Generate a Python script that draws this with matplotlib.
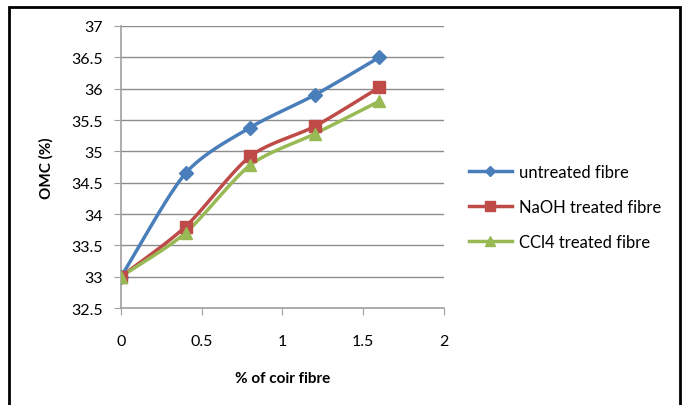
import numpy as np
import matplotlib.pyplot as plt
from matplotlib.patches import Rectangle

fibre = [0, 0.4, 0.8, 1.2, 1.6]
untreated = [33.0, 34.65, 35.38, 35.9, 36.5]
naoh = [33.0, 33.8, 34.92, 35.4, 36.02]
ccl4 = [33.0, 33.7, 34.78, 35.28, 35.8]
labels = ['untreated fibre', 'NaOH treated fibre', 'CCl4 treated fibre']
yticks = [32.5, 33, 33.5, 34, 34.5, 35, 35.5, 36, 36.5, 37]
xticks = [0, 0.5, 1, 1.5, 2]


def smooth(x, y, n=30):
    # catmull-rom style curve through the points, like Excel "smoothed line"
    x = np.asarray(x, float)
    y = np.asarray(y, float)
    px = np.concatenate([[2 * x[0] - x[1]], x, [2 * x[-1] - x[-2]]])
    py = np.concatenate([[2 * y[0] - y[1]], y, [2 * y[-1] - y[-2]]])
    t = np.linspace(0, 1, n)
    xs, ys = [], []
    for i in range(1, len(px) - 2):
        for p, out in ((px, xs), (py, ys)):
            p0, p1, p2, p3 = p[i - 1], p[i], p[i + 1], p[i + 2]
            m1 = (p2 - p0) / 2 * 0.8
            m2 = (p3 - p1) / 2 * 0.8
            h00 = 2 * t**3 - 3 * t**2 + 1
            h10 = t**3 - 2 * t**2 + t
            h01 = -2 * t**3 + 3 * t**2
            h11 = t**3 - t**2
            out.extend(h00 * p1 + h10 * m1 + h01 * p2 + h11 * m2)
    return xs, ys


plt.rcParams['font.family'] = ['Lato', 'DejaVu Sans']

fig = plt.figure(figsize=(6.86, 4.06), dpi=100)
ax = fig.add_axes([0.1764, 0.2389, 0.4708, 0.6946])

series = [(untreated, '#4A7EBB', 'D', 7), (naoh, '#BE4B48', 's', 9),
          (ccl4, '#98B954', '^', 9)]
for (vals, col, mk, ms), lab in zip(series, labels):
    sx, sy = smooth(fibre, vals)
    ax.plot(sx, sy, color=col, lw=2.5, zorder=3)
    ax.plot(fibre, vals, ls='none', marker=mk, ms=ms, color=col, zorder=4)
    ax.plot([], [], color=col, lw=2.5, marker=mk, ms=ms * 0.8, label=lab)

ax.set_xlim(0, 2)
ax.set_ylim(32.5, 37)
ax.set_xticks(xticks)
ax.set_xticklabels(['0', '0.5', '1', '1.5', '2'])
ax.set_yticks(yticks)
ax.set_yticklabels(['32.5', '33', '33.5', '34', '34.5', '35', '35.5', '36', '36.5', '37'])
ax.grid(axis='y', color='#8C8C8C', lw=1)
ax.set_axisbelow(True)
for s in ['top', 'right']:
    ax.spines[s].set_visible(False)
for s in ['left', 'bottom']:
    ax.spines[s].set_color('#A0A0A0')
    ax.spines[s].set_linewidth(1.2)
ax.tick_params(axis='both', direction='out', color='#A0A0A0', length=5,
               labelsize=11.5, colors='#A0A0A0', labelcolor='black')
ax.tick_params(axis='x', pad=14)
ax.tick_params(axis='y', pad=8)

ax.set_xlabel('% of coir fibre', fontsize=11, fontweight='bold', labelpad=16)
ax.set_ylabel('OMC (%)', fontsize=11, fontweight='bold', labelpad=13)

ax.legend(loc='center left', bbox_to_anchor=(1.03, 0.358), frameon=False,
          fontsize=12, handlelength=2.6, labelspacing=1.15, handletextpad=0.4)

fig.patches.append(Rectangle((9 / 686, -0.01), 671 / 686, 1 - 8 / 406 + 0.01,
                             transform=fig.transFigure, fill=False,
                             edgecolor='black', lw=2))

fig.savefig('out.png', dpi=100)
